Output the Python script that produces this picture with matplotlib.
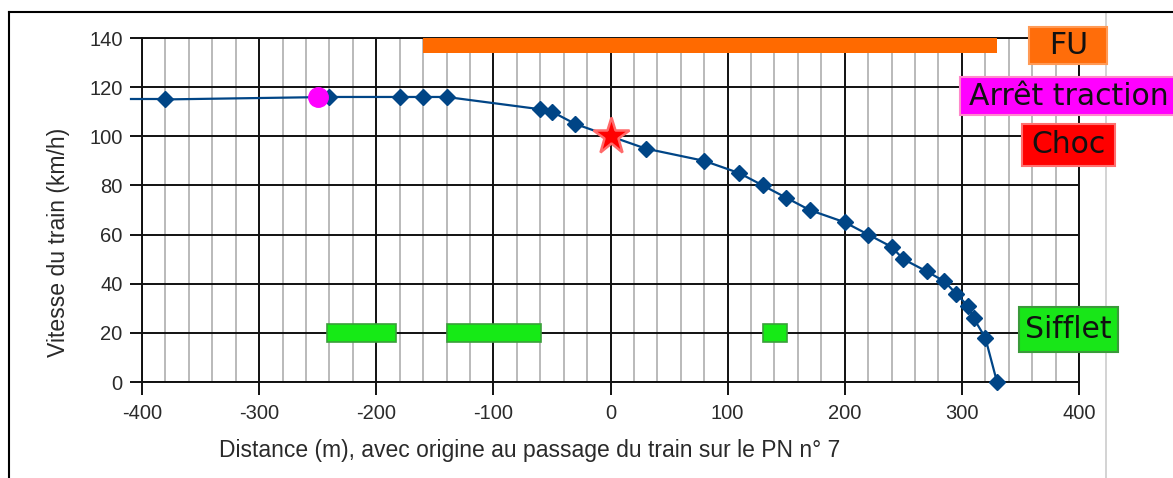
import matplotlib
matplotlib.use("Agg")
import matplotlib.pyplot as plt
from matplotlib.path import Path
from matplotlib.lines import Line2D
from matplotlib.ticker import MultipleLocator

plt.rcParams["axes.unicode_minus"] = False

# ---------------- data ----------------
distance = [-380, -240, -180, -160, -140, -60, -50, -30, 0, 30, 80, 110, 130,
            150, 170, 200, 220, 240, 250, 270, 285, 295, 305, 310, 320, 330]
speed = [115, 116, 116, 116, 116, 111, 110, 105, 100, 95, 90, 85, 80,
         75, 70, 65, 60, 55, 50, 45, 41, 36, 31, 26, 18, 0]
line_start = (-409, 115)          # speed trace starts just left of the axis

traction_cut = (-250, 116)        # Arrêt traction
shock = (0, 100)                  # Choc
fu_start, fu_end, fu_level = -160, 330, 137       # FU (freinage d'urgence)
whistle_starts = [-242, -140, 130]
whistle_ends = [-183, -59, 151]
whistle_level = 20

labels = ["FU", "Arrêt traction", "Choc", "Sifflet"]
label_y = [137, 116.3, 96.5, 21.5]
label_x = 391

xticks = [-400, -300, -200, -100, 0, 100, 200, 300, 400]
yticks = [0, 20, 40, 60, 80, 100, 120, 140]

# ---------------- figure ----------------
W, H = 1173, 478
fig = plt.figure(figsize=(W / 100, H / 100), dpi=100)
fig.patch.set_facecolor("white")
ax = fig.add_axes([142 / W, 1 - 382 / H, (1079 - 142) / W, (382 - 38) / H])

ax.set_xlim(-400, 400)
ax.set_ylim(0, 140)
ax.set_xticks(xticks)
ax.set_yticks(yticks)
ax.xaxis.set_minor_locator(MultipleLocator(20))
ax.grid(which="minor", axis="x", color="#bababa", lw=1.4, zorder=0)
ax.grid(which="major", axis="both", color="#111111", lw=1.4, zorder=0.5)
ax.set_axisbelow(True)
for s in ax.spines.values():
    s.set_color("#111111")
    s.set_linewidth(1.4)
ax.tick_params(which="major", direction="out", length=9, width=1.4,
               color="#111111", labelsize=14.5, labelcolor="#2a2a2a", pad=5)
ax.tick_params(which="minor", length=0)
ax.tick_params(axis="x", pad=7)
for lab in ax.get_xticklabels() + ax.get_yticklabels():
    lab.set_fontfamily("Liberation Sans")

# FU bar
ax.barh(fu_level, fu_end - fu_start, left=fu_start, height=6.6,
        color="#ff6a00", zorder=3)
# whistle bars
ax.barh([whistle_level] * len(whistle_starts),
        [e - s for s, e in zip(whistle_starts, whistle_ends)],
        left=whistle_starts, height=7.6, color="#16ea16",
        edgecolor="#3aa03a", linewidth=1.2, zorder=3)

# speed trace
ax.plot([line_start[0], distance[0]], [line_start[1], speed[0]],
        color="#004586", lw=1.6, zorder=4, clip_on=False)
ax.plot(distance, speed, color="#004586", lw=1.6, marker="D", ms=8.5,
        markeredgecolor="#004586", zorder=4, clip_on=False)
ax.plot(*traction_cut, marker="o", ms=14, color="#ff00ff", zorder=5)
ax.plot(*shock, marker="*", ms=28, color="#ff0000",
        markeredgecolor="#ff6a6a", markeredgewidth=1.8, zorder=5)


def make_box(padx, pady):
    def box(x0, y0, width, height, mutation_size):
        px = padx * mutation_size
        py = pady * mutation_size
        verts = [(x0 - px, y0 - py), (x0 + width + px, y0 - py),
                 (x0 + width + px, y0 + height + py), (x0 - px, y0 + height + py),
                 (x0 - px, y0 - py)]
        return Path(verts, closed=True)
    return box


box_fill = ["#ff6d0a", "#ff00ff", "#ff0000", "#18e618"]
box_edge = ["#ff9a55", "#ff88cc", "#ff7070", "#3a9a3a"]
box_pad = [(0.65, 0.13), (0.3, 0.15), (0.31, 0.21), (0.22, 0.27)]
for txt, yy, fc, ec, (px, py) in zip(labels, label_y, box_fill, box_edge, box_pad):
    ax.text(label_x, yy, txt, ha="center", va="center", fontsize=21.5,
            family="DejaVu Sans", color="#111111", zorder=10, clip_on=False,
            bbox=dict(boxstyle=make_box(px, py), fc=fc, ec=ec, lw=1.5))

# axis labels
fig.text(529.5 / W, 1 - 450 / H,
         "Distance (m), avec origine au passage du train sur le PN n° 7",
         ha="center", va="center", fontsize=16.5, family="Liberation Sans",
         color="#2a2a2a")
fig.text(59 / W, 1 - 242 / H, "Vitesse du train (km/h)", rotation=90,
         ha="center", va="center", fontsize=16.6, family="Liberation Sans",
         color="#2a2a2a")

# screenshot frame
fig.add_artist(Line2D([9 / W, 1], [1 - 12 / H, 1 - 12 / H], color="black",
                      lw=1.5, transform=fig.transFigure))
fig.add_artist(Line2D([9 / W, 9 / W], [0, 1 - 12 / H], color="black",
                      lw=1.5, transform=fig.transFigure))
fig.add_artist(Line2D([1106 / W, 1106 / W], [0, 1 - 12 / H], color="#cccccc",
                      lw=1.2, transform=fig.transFigure, zorder=0))

fig.savefig("out.png", dpi=100, facecolor="white")
